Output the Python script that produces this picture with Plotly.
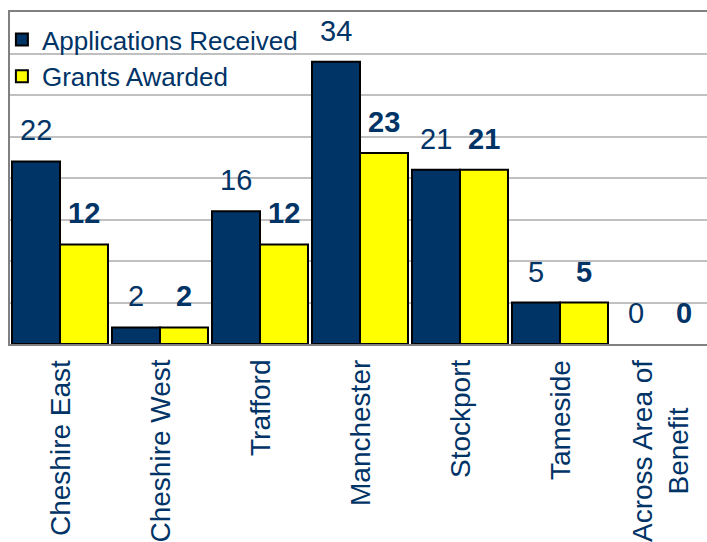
import plotly.graph_objects as go

categories = ["Cheshire East", "Cheshire West", "Trafford", "Manchester",
              "Stockport", "Tameside", "Across Area of<br>Benefit"]
applications = [22, 2, 16, 34, 21, 5, 0]
grants = [12, 2, 12, 23, 21, 5, 0]

NAVY = "#003366"
YELLOW = "#FFFF00"
FONT = "Liberation Sans, Arial, sans-serif"

idx = list(range(len(categories)))


def outline_widths(vals):
    return [2 if v > 0 else 0 for v in vals]


fig = go.Figure()
fig.add_trace(go.Bar(x=idx, y=applications, name="Applications Received",
                     marker=dict(color=NAVY,
                                 line=dict(color="black", width=outline_widths(applications)))))
fig.add_trace(go.Bar(x=idx, y=grants, name="Grants Awarded",
                     marker=dict(color=YELLOW,
                                 line=dict(color="black", width=outline_widths(grants)))))

annotations = []
bw = 0.48
for i, (a, g) in enumerate(zip(applications, grants)):
    annotations.append(dict(x=i - bw / 2, y=a, xref="x", yref="y", text=str(a),
                            showarrow=False, yanchor="bottom", yshift=13,
                            font=dict(family=FONT, size=29, color=NAVY)))
    annotations.append(dict(x=i + bw / 2, y=g, xref="x", yref="y", text="<b>%d</b>" % g,
                            showarrow=False, yanchor="bottom", yshift=13,
                            font=dict(family=FONT, size=29, color=NAVY)))
for i, c in enumerate(categories):
    annotations.append(dict(x=i, y=0, xref="x", yref="y", text=c, textangle=-90,
                            showarrow=False, yanchor="top", xanchor="center", yshift=-14,
                            align="center",
                            font=dict(family=FONT, size=28, color=NAVY)))

fig.update_layout(
    width=714, height=542,
    margin=dict(l=10, r=0, t=12, b=198),
    paper_bgcolor="white", plot_bgcolor="white",
    barmode="group", bargap=0.04, bargroupgap=0,
    showlegend=True,
    legend=dict(x=-0.0115, y=0.988, xanchor="left", yanchor="top",
                bgcolor="rgba(0,0,0,0)", borderwidth=0,
                font=dict(family=FONT, size=26, color=NAVY),
                itemwidth=30, tracegroupgap=0),
    annotations=annotations,
    xaxis=dict(range=[-0.5, 6.54], showticklabels=False, ticks="",
               showline=True, linecolor="#808080", linewidth=2, mirror=True,
               showgrid=False, zeroline=False, fixedrange=True),
    yaxis=dict(range=[0, 40], dtick=5, showticklabels=False, ticks="",
               showline=True, linecolor="#808080", linewidth=2,
               showgrid=True, gridcolor="#C0C0C0", gridwidth=1.5,
               zeroline=False, fixedrange=True),
)

fig.write_html("out.html", config={"displayModeBar": False},
               post_script="document.body.style.margin='0';document.body.style.overflow='hidden';")
